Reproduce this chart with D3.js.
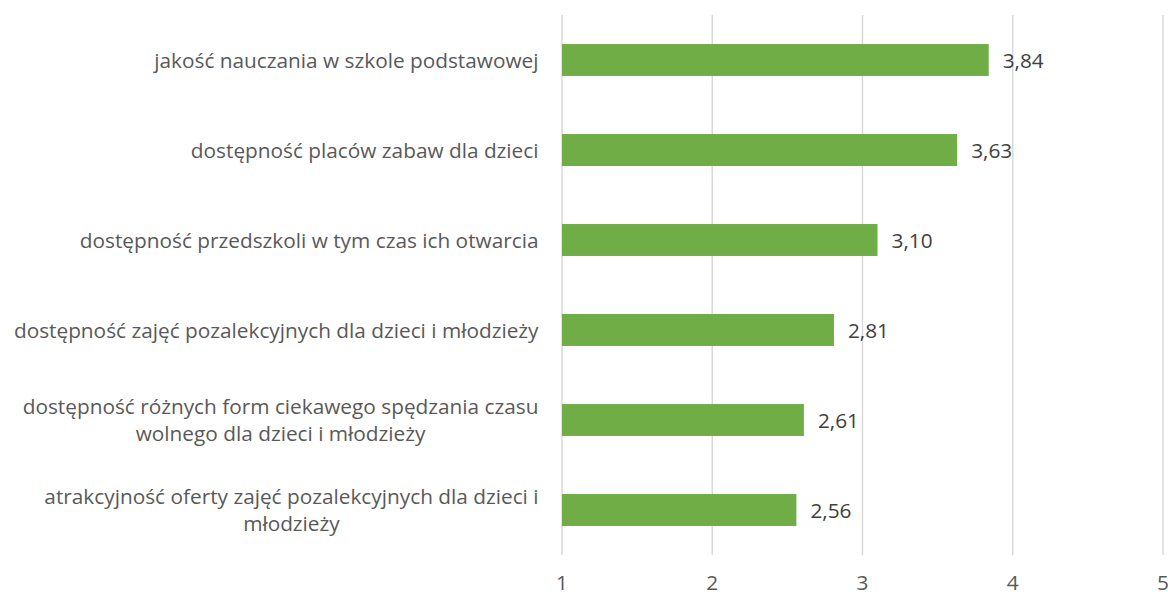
<!DOCTYPE html>
<html><head><meta charset="utf-8">
<script src="https://cdn.jsdelivr.net/npm/d3@7"></script>
<style>body{margin:0;background:#fff;} text{font-family:"Open Sans",sans-serif;}</style>
</head><body>
<svg id="c" width="1168" height="595"></svg>
<script>
const categories = [
  ["jakość nauczania w szkole podstawowej"],
  ["dostępność placów zabaw dla dzieci"],
  ["dostępność przedszkoli w tym czas ich otwarcia"],
  ["dostępność zajęć pozalekcyjnych dla dzieci i młodzieży"],
  ["dostępność różnych form ciekawego spędzania czasu", "wolnego dla dzieci i młodzieży"],
  ["atrakcyjność oferty zajęć pozalekcyjnych dla dzieci i", "młodzieży"]
];
const values = [3.84, 3.63, 3.10, 2.81, 2.61, 2.56];
const ticks = [1, 2, 3, 4, 5];

const FS = 20.8;
const svg = d3.select("#c");
const x = d3.scaleLinear().domain([1, 5]).range([562, 1163]);
const y = d3.scaleBand().domain(d3.range(categories.length)).range([15, 555]).paddingInner(0.645).paddingOuter(0.3225);

svg.append("g").selectAll("line").data(ticks).join("line")
  .attr("x1", d => x(d)).attr("x2", d => x(d)).attr("y1", 15).attr("y2", 555)
  .attr("stroke", "#d9d9d9").attr("stroke-width", 1.5);

svg.append("g").selectAll("text").data(ticks).join("text")
  .attr("x", d => x(d)).attr("y", 590).attr("text-anchor", "middle")
  .attr("fill", "#595959").attr("font-size", FS).text(d => d);

svg.append("g").selectAll("rect").data(values).join("rect")
  .attr("x", x(1)).attr("y", (d, i) => y(i)).attr("height", y.bandwidth())
  .attr("width", d => x(d) - x(1)).attr("fill", "#70ad47");

svg.append("g").selectAll("text").data(values).join("text")
  .attr("x", d => x(d) + 14).attr("y", (d, i) => y(i) + y.bandwidth() / 2 + 7.5)
  .attr("fill", "#404040").attr("font-size", FS)
  .text(d => d.toFixed(2).replace(".", ","));

const lg = svg.append("g");
categories.forEach((lines, i) => {
  const cy = y(i) + y.bandwidth() / 2;
  const g = lg.append("g");
  const ts = lines.map((ln, j) => g.append("text")
    .attr("y", cy + 7.5 + (j - (lines.length - 1) / 2) * 27)
    .attr("text-anchor", "middle").attr("fill", "#595959").attr("font-size", FS).text(ln));
  const w = d3.max(ts, t => t.node().getComputedTextLength());
  ts.forEach(t => t.attr("x", 538.5 - w / 2));
});
</script>
</body></html>
